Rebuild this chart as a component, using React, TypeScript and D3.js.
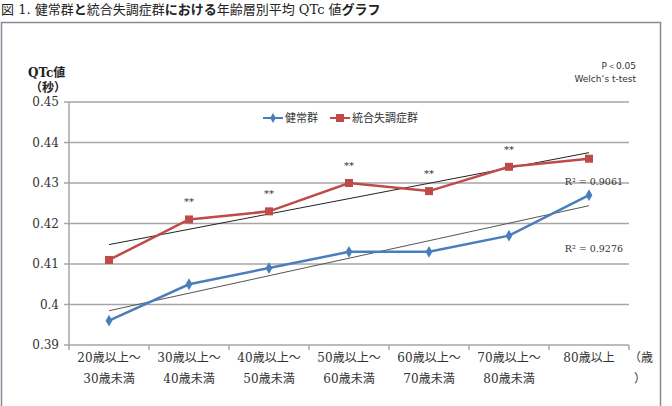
import * as d3 from "d3";
import React from "react";

const categories = [
  ["20歳以上～", "30歳未満"],
  ["30歳以上～", "40歳未満"],
  ["40歳以上～", "50歳未満"],
  ["50歳以上～", "60歳未満"],
  ["60歳以上～", "70歳未満"],
  ["70歳以上～", "80歳未満"],
  ["80歳以上", ""],
];
const healthy = [0.396, 0.405, 0.409, 0.413, 0.413, 0.417, 0.427];
const schizo = [0.411, 0.421, 0.423, 0.43, 0.428, 0.434, 0.436];
const significant = [false, true, true, true, true, true, false];
const yTicks = [0.39, 0.4, 0.41, 0.42, 0.43, 0.44, 0.45];
const r2Healthy = "0.9276";
const r2Schizo = "0.9061";

const width = 672;
const height = 406;
const marginLeft = 69;
const plotRight = 629;
const plotTop = 102;
const plotBottom = 345;

const serif = "'DejaVu Serif', 'Liberation Serif', 'Noto Sans CJK JP', serif";
const jp = "'Noto Sans CJK JP', sans-serif";

// least squares fit over category index, like Excel's linear trendline
const fit = (vals: number[]) => {
  const xs = vals.map((_, i) => i);
  const mx = d3.mean(xs)!;
  const my = d3.mean(vals)!;
  const slope =
    d3.sum(xs, (x, i) => (x - mx) * (vals[i] - my)) /
    d3.sum(xs, (x) => (x - mx) ** 2);
  return (i: number) => my + slope * (i - mx);
};

const App = () => {
  const idx = categories.map((_, i) => i);
  const band = d3
    .scaleBand<number>()
    .domain(idx)
    .range([marginLeft, plotRight]);
  const x = (i: number) => band(i)! + band.bandwidth() / 2;
  const y = d3.scaleLinear().domain([0.39, 0.45]).range([plotBottom, plotTop]);

  const line = d3
    .line<number>()
    .x((_, i) => x(i))
    .y((d) => y(d));

  const fh = fit(healthy);
  const fs = fit(schizo);
  const n = categories.length - 1;

  return (
    <svg
      width={width}
      height={height}
      style={{ position: "absolute", left: 0, top: 0, display: "block", background: "#fff" }}
    >
      <text x={1} y={14} fontSize={13} fontFamily={jp} fill="#222">
        <tspan fontFamily={serif}>図 1. 健常群</tspan>
        <tspan fontWeight="bold">と</tspan>
        <tspan fontFamily={serif}>統合失調症群</tspan>
        <tspan fontWeight="bold">における</tspan>
        <tspan fontFamily={serif}>年齢層別平均 QTc 値</tspan>
        <tspan fontWeight="bold">グラフ</tspan>
      </text>
      <rect x={1.5} y={22.5} width={659} height={400} fill="none" stroke="#8a8898" strokeWidth={1.5} />

      {/* gridlines */}
      {yTicks.map((t) => (
        <g key={t}>
          <line x1={marginLeft - 5} x2={plotRight} y1={y(t)} y2={y(t)} stroke="#a6a6a6" strokeWidth={1.5} />
          <text x={marginLeft - 10} y={y(t) + 4} textAnchor="end" fontSize={12} fontFamily={serif} fill="#333">
            {t === 0.4 ? "0.4" : t.toFixed(2)}
          </text>
        </g>
      ))}
      <line x1={marginLeft} x2={marginLeft} y1={plotTop} y2={plotBottom} stroke="#a6a6a6" strokeWidth={1.5} />
      {d3.range(categories.length + 1).map((i) => {
        const xx = marginLeft + i * band.step();
        return <line key={i} x1={xx} x2={xx} y1={plotBottom} y2={plotBottom + 5} stroke="#a6a6a6" strokeWidth={1.5} />;
      })}

      {/* x labels */}
      {categories.map((c, i) => (
        <text key={i} textAnchor="middle" fontSize={12} fontFamily={serif} fill="#333">
          <tspan x={x(i)} y={362}>{c[0]}</tspan>
          <tspan x={x(i)} y={383}>{c[1]}</tspan>
        </text>
      ))}
      <text fontSize={12} fontFamily={serif} fill="#333">
        <tspan x={629} y={362}>（歳</tspan>
        <tspan x={634} y={383}>）</tspan>
      </text>

      {/* axis title */}
      <text fontSize={12} fontFamily={serif} fill="#222" fontWeight="bold">
        <tspan x={28} y={77}>QTc値</tspan>
        <tspan x={30} y={92}>（秒）</tspan>
      </text>

      <text textAnchor="end" fontSize={9} fontFamily="'DejaVu Sans', sans-serif" fill="#333">
        <tspan x={636} y={69}>P＜0.05</tspan>
        <tspan x={636} y={82}>Welch‘s  t-test</tspan>
      </text>

      {/* legend */}
      <g fontSize={11} fontFamily={jp} fill="#333">
        <line x1={263} x2={283} y1={118} y2={118} stroke="#4a7ebb" strokeWidth={2} />
        <path d={d3.symbol(d3.symbolDiamond, 28)()!} transform="translate(273,118)" fill="#4a7ebb" />
        <text x={285} y={122}>健常群</text>
        <line x1={330} x2={350} y1={118} y2={118} stroke="#be4b48" strokeWidth={2} />
        <rect x={336} y={114} width={8} height={8} fill="#be4b48" />
        <text x={352} y={122}>統合失調症群</text>
      </g>

      {/* trendlines */}
      <line x1={x(0)} x2={x(n)} y1={y(fs(0))} y2={y(fs(n))} stroke="#222" strokeWidth={1} />
      <line x1={x(0)} x2={x(n)} y1={y(fh(0))} y2={y(fh(n))} stroke="#555" strokeWidth={1} />

      {/* series */}
      <path d={line(healthy)!} fill="none" stroke="#4a7ebb" strokeWidth={2.5} />
      {healthy.map((v, i) => (
        <path key={i} d={d3.symbol(d3.symbolDiamond, 40)()!} transform={`translate(${x(i)},${y(v)})`} fill="#4a7ebb" />
      ))}
      <path d={line(schizo)!} fill="none" stroke="#be4b48" strokeWidth={2.5} />
      {schizo.map((v, i) => (
        <rect key={i} x={x(i) - 4} y={y(v) - 4} width={8} height={8} fill="#be4b48" />
      ))}

      {/* significance marks */}
      {schizo.map((v, i) =>
        significant[i] ? (
          <text key={i} x={x(i)} y={y(v) - 14} textAnchor="middle" fontSize={10} fontFamily={serif} fill="#333">
            **
          </text>
        ) : null
      )}

      <text x={623} y={185} textAnchor="end" fontSize={9.5} fontFamily={serif} fill="#333">
        R² = {r2Schizo}
      </text>
      <text x={623} y={252} textAnchor="end" fontSize={9.5} fontFamily={serif} fill="#333">
        R² = {r2Healthy}
      </text>
    </svg>
  );
};

export default App;
